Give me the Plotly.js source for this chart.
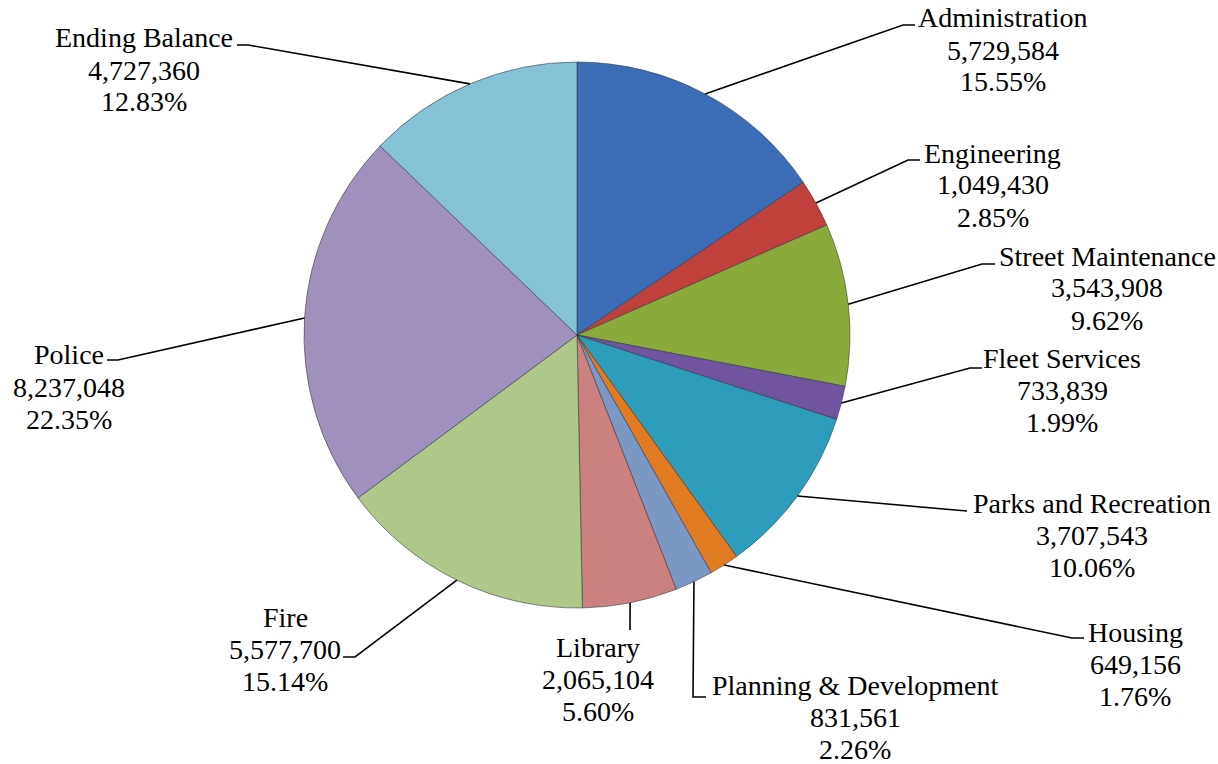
<!DOCTYPE html>
<html>
<head>
<meta charset="utf-8">
<script src="https://cdn.plot.ly/plotly-3.0.1.min.js"></script>
<style>html,body{margin:0;padding:0;background:#fff;}#chart{width:1218px;height:764px;}</style>
</head>
<body>
<div id="chart"></div>
<script>
// ---- data ----
const categories = ["Administration", "Engineering", "Street Maintenance", "Fleet Services",
  "Parks and Recreation", "Housing", "Planning & Development", "Library", "Fire", "Police", "Ending Balance"];
const values = [5729584, 1049430, 3543908, 733839, 3707543, 649156, 831561, 2065104, 5577700, 8237048, 4727360];
const colors = ["#3A6DB5", "#C0403C", "#8AAB3C", "#7054A0", "#2E9DBB", "#E07B22",
  "#7B97C4", "#CB8180", "#AFC888", "#A091BE", "#83C2D7"];

// ---- layout positions (pixels) ----
const W = 1218, H = 764;
const CX = 577, CY = 335, R = 273;
// label centre x, first-line centre y
const labelPos = [[1003, 18], [993, 153], [1107, 256], [1062, 358], [1092, 503], [1135, 632],
  [855, 685], [598, 647], [285, 617], [69, 355], [144, 38]];
// leader elbow and end points
const leaderPts = [[903, 25, 915, 25], [908, 160, 920, 160], [982, 264, 995, 264], [970, 368, 982, 368],
  [955, 510, 967, 511], [1072, 638, 1084, 638], [693, 697, 706, 697], [630, 630, 630, 630],
  [355, 657, 343, 657], [118, 360, 107, 360], [248, 45, 237, 45]];
const LINE = 32;

const total = values.reduce((a, b) => a + b, 0);
const px = x => x / W, py = y => 1 - y / H;

const annotations = [];
const shapes = [];
let cum = 0;
values.forEach((v, i) => {
  const mid = (cum + v / 2) / total * 2 * Math.PI;
  cum += v;
  const ex = CX + R * Math.sin(mid), ey = CY - R * Math.cos(mid);
  const [bx, by, tx, ty] = leaderPts[i];
  shapes.push({
    type: 'path', xref: 'paper', yref: 'paper',
    path: `M ${px(ex)} ${py(ey)} L ${px(bx)} ${py(by)} L ${px(tx)} ${py(ty)}`,
    line: {color: '#000', width: 1.6}
  });
  const lines = [categories[i], v.toLocaleString('en-US'), (v / total * 100).toFixed(2) + '%'];
  lines.forEach((t, k) => {
    annotations.push({
      xref: 'paper', yref: 'paper', x: px(labelPos[i][0]), y: py(labelPos[i][1] + k * LINE),
      xanchor: 'center', yanchor: 'middle', showarrow: false, text: t,
      font: {family: 'Liberation Serif', size: 28, color: '#000'}
    });
  });
});

const trace = {
  type: 'pie', labels: categories, values: values, sort: false, direction: 'clockwise', rotation: 0,
  marker: {colors: colors, line: {color: 'rgba(50,50,60,0.55)', width: 1}},
  textinfo: 'none', hoverinfo: 'label+value+percent', showlegend: false,
  domain: {x: [px(CX - R), px(CX + R)], y: [py(CY + R), py(CY - R)]}
};

Plotly.newPlot('chart', [trace], {
  width: W, height: H, margin: {l: 0, r: 0, t: 0, b: 0},
  paper_bgcolor: '#fff', plot_bgcolor: '#fff', showlegend: false,
  font: {family: 'Liberation Serif'},
  annotations: annotations, shapes: shapes
}, {displayModeBar: false, staticPlot: true});
</script>
</body>
</html>
